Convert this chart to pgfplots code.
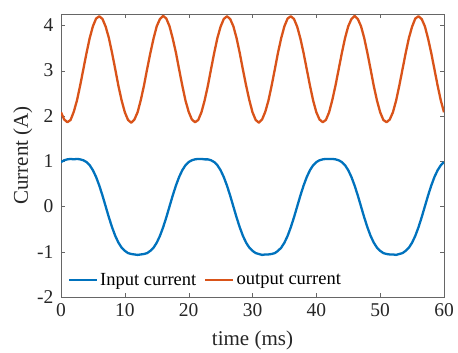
\documentclass[border=0pt]{standalone}
\usepackage{fontspec}
\setmainfont{Liberation Serif}
\usepackage{pgfplots}
\pgfplotsset{compat=1.18}
\definecolor{mblue}{rgb}{0,0.447,0.741}
\definecolor{morange}{rgb}{0.85,0.325,0.098}
\begin{document}
\begin{tikzpicture}
\begin{axis}[
  name=ax,
  width=383pt, height=283pt, scale only axis,
  xmin=0, xmax=60, ymin=-2, ymax=4.25,
  xtick={0,10,...,60}, ytick={-2,-1,0,1,2,3,4},
  tick align=inside, major tick length=4pt,
  axis line style={black!60}, tick style={black!60},
  /pgf/number format/assume math mode=true,
  tick label style={font=\fontsize{19.5}{21}\selectfont, text=black!85},
  yticklabel style={xshift=-4pt},
  xticklabel style={yshift=-3pt},
  label style={font=\fontsize{21}{24}\selectfont, text=black!85},
  xlabel={time (ms)}, ylabel={Current (A)},
  xlabel style={yshift=-7pt},
  ylabel style={yshift=-2pt},
  legend columns=2,
  legend style={at={(0.015,0.025)}, anchor=south west, draw=none, fill=none,
    font=\fontsize{18.5}{20}\selectfont, inner sep=1pt,
    /tikz/every even column/.append style={column sep=6pt}},
  legend image code/.code={\draw[#1] (0pt,0pt) -- (28pt,0pt);},
  every axis plot/.append style={line width=2.3pt, line join=round},
]
\addplot[mblue] coordinates {
(0,0.98)(0.5,1.02)(1,1.04)(1.5,1.05)(2,1.04)(2.5,1.05)(3,1.04)(3.5,1.02)(4,0.98)(4.5,0.91)
(5,0.80)(5.5,0.65)(6,0.46)(6.5,0.24)(7,0.00)(7.5,-0.24)(8,-0.46)(8.5,-0.65)(9,-0.80)(9.5,-0.91)
(10,-0.98)(10.5,-1.03)(11,-1.05)(11.5,-1.06)(12,-1.07)(12.5,-1.06)(13,-1.05)(13.5,-1.03)(14,-0.98)(14.5,-0.91)
(15,-0.80)(15.5,-0.65)(16,-0.46)(16.5,-0.24)(17,0.00)(17.5,0.24)(18,0.46)(18.5,0.65)(19,0.80)(19.5,0.91)
(20,0.98)(20.5,1.02)(21,1.04)(21.5,1.05)(22,1.05)(22.5,1.04)(23,1.04)(23.5,1.02)(24,0.98)(24.5,0.91)
(25,0.80)(25.5,0.65)(26,0.46)(26.5,0.24)(27,0.00)(27.5,-0.24)(28,-0.46)(28.5,-0.65)(29,-0.80)(29.5,-0.91)
(30,-0.98)(30.5,-1.03)(31,-1.05)(31.5,-1.07)(32,-1.06)(32.5,-1.06)(33,-1.05)(33.5,-1.03)(34,-0.98)(34.5,-0.91)
(35,-0.80)(35.5,-0.65)(36,-0.46)(36.5,-0.24)(37,0.00)(37.5,0.24)(38,0.46)(38.5,0.65)(39,0.80)(39.5,0.91)
(40,0.98)(40.5,1.02)(41,1.04)(41.5,1.05)(42,1.05)(42.5,1.05)(43,1.04)(43.5,1.02)(44,0.98)(44.5,0.91)
(45,0.80)(45.5,0.65)(46,0.46)(46.5,0.24)(47,0.00)(47.5,-0.24)(48,-0.46)(48.5,-0.65)(49,-0.80)(49.5,-0.91)
(50,-0.98)(50.5,-1.03)(51,-1.05)(51.5,-1.06)(52,-1.06)(52.5,-1.07)(53,-1.05)(53.5,-1.03)(54,-0.98)(54.5,-0.91)
(55,-0.80)(55.5,-0.65)(56,-0.46)(56.5,-0.24)(57,0.00)(57.5,0.24)(58,0.46)(58.5,0.65)(59,0.80)(59.5,0.91)
(60,0.98)
};
\addlegendentry{Input current}
\addplot[morange] coordinates {
(0,2.08)(0.5,1.92)(1,1.86)(1.5,1.91)(2,2.09)(2.5,2.34)(3,2.67)(3.5,3.03)(4,3.39)(4.5,3.72)
(5,3.98)(5.5,4.15)(6,4.20)(6.5,4.14)(7,3.97)(7.5,3.72)(8,3.39)(8.5,3.03)(9,2.66)(9.5,2.34)
(10,2.08)(10.5,1.91)(11,1.85)(11.5,1.92)(12,2.08)(12.5,2.35)(13,2.67)(13.5,3.04)(14,3.39)(14.5,3.71)
(15,3.98)(15.5,4.14)(16,4.21)(16.5,4.15)(17,3.98)(17.5,3.71)(18,3.40)(18.5,3.03)(19,2.67)(19.5,2.34)
(20,2.09)(20.5,1.92)(21,1.86)(21.5,1.91)(22,2.08)(22.5,2.34)(23,2.66)(23.5,3.03)(24,3.39)(24.5,3.72)
(25,3.97)(25.5,4.14)(26,4.20)(26.5,4.14)(27,3.98)(27.5,3.72)(28,3.39)(28.5,3.02)(29,2.67)(29.5,2.35)
(30,2.08)(30.5,1.91)(31,1.85)(31.5,1.92)(32,2.09)(32.5,2.34)(33,2.67)(33.5,3.03)(34,3.40)(34.5,3.72)
(35,3.98)(35.5,4.15)(36,4.20)(36.5,4.14)(37,3.97)(37.5,3.71)(38,3.39)(38.5,3.03)(39,2.67)(39.5,2.34)
(40,2.08)(40.5,1.92)(41,1.86)(41.5,1.91)(42,2.08)(42.5,2.35)(43,2.67)(43.5,3.03)(44,3.39)(44.5,3.72)
(45,3.98)(45.5,4.14)(46,4.21)(46.5,4.14)(47,3.98)(47.5,3.72)(48,3.39)(48.5,3.03)(49,2.66)(49.5,2.34)
(50,2.08)(50.5,1.91)(51,1.86)(51.5,1.92)(52,2.08)(52.5,2.34)(53,2.67)(53.5,3.03)(54,3.39)(54.5,3.72)
(55,3.97)(55.5,4.15)(56,4.20)(56.5,4.14)(57,3.98)(57.5,3.71)(58,3.39)(58.5,3.03)(59,2.67)(59.5,2.34)
(60,2.08)
};
\addlegendentry{output current}
\end{axis}
\path ([shift={(-61pt,-55pt)}]ax.south west) rectangle ([shift={(14pt,14pt)}]ax.north east);
\end{tikzpicture}
\end{document}
